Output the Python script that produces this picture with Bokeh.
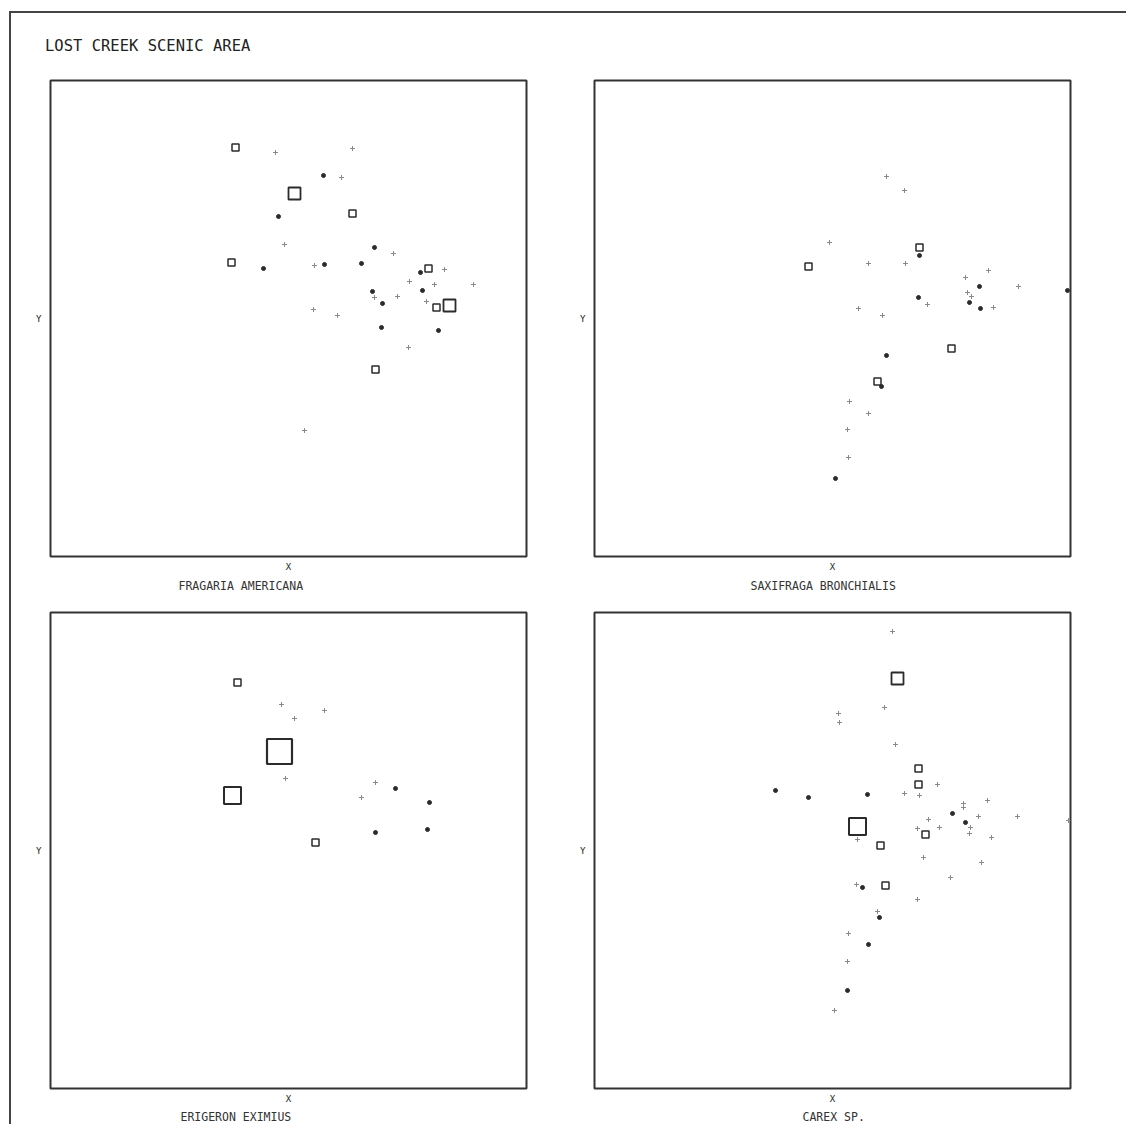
from bokeh.plotting import figure
from bokeh.layouts import column, row
from bokeh.models import Range1d, FixedTicker, Title, Div
from bokeh.embed import file_html
from bokeh.resources import INLINE

MAIN_TITLE = "LOST CREEK SCENIC AREA"
SPECIES = ["FRAGARIA AMERICANA", "SAXIFRAGA BRONCHIALIS", "ERIGERON EXIMIUS", "CAREX SP."]
AXIS_X = "X"
AXIS_Y = "Y"

# Ordination scores of the sample plots (X = axis 1, Y = axis 2) and the
# abundance class of the species in each plot (0 absent, 1 trace, 2..5 cover classes)
fragaria_x = [185, 225, 302, 273, 291, 244, 228, 302, 234, 324, 343, 181, 213, 264, 274, 311,
              378, 370, 394, 359, 384, 423, 322, 324, 332, 347, 372, 376, 386, 399, 263, 287,
              331, 388, 358, 325, 254]
fragaria_y = [409, 404, 408, 381, 379, 363, 340, 343, 312, 309, 303, 294, 288, 291, 292, 293,
              288, 284, 287, 275, 272, 272, 265, 259, 253, 260, 266, 255, 249, 251, 247, 241,
              229, 226, 209, 187, 126]
fragaria_cls = [2, 0, 0, 1, 0, 3, 1, 2, 0, 1, 0, 2, 1, 0, 1, 1,
                2, 1, 0, 0, 0, 0, 1, 0, 1, 0, 1, 0, 2, 3, 0, 0,
                1, 1, 0, 2, 0]

saxifraga_x = [292, 310, 235, 325, 325, 214, 274, 311, 394, 371, 385, 424, 473, 373, 377, 375,
               324, 333, 386, 399, 264, 288, 357, 292, 283, 287, 255, 274, 253, 254, 241]
saxifraga_y = [380, 366, 314, 309, 301, 290, 293, 293, 286, 279, 270, 270, 266, 264, 260, 254,
               259, 252, 248, 249, 248, 241, 208, 201, 175, 170, 155, 143, 127, 99, 78]
saxifraga_cls = [0, 0, 0, 2, 1, 2, 0, 0, 0, 0, 1, 0, 1, 0, 0, 1,
                 1, 0, 1, 0, 0, 0, 2, 1, 2, 1, 0, 0, 0, 0, 1]

erigeron_x = [187, 231, 274, 244, 229, 235, 325, 345, 182, 311, 379, 325, 377, 265]
erigeron_y = [406, 384, 378, 370, 337, 310, 306, 300, 293, 291, 286, 256, 259, 246]
erigeron_cls = [2, 0, 0, 0, 5, 0, 0, 1, 4, 0, 1, 1, 1, 2]

carex_x = [298, 303, 290, 244, 245, 301, 324, 324, 343, 181, 214, 273, 310, 325, 369, 369,
           393, 358, 384, 423, 371, 376, 375, 397, 334, 345, 323, 331, 263, 263, 286, 329,
           387, 356, 291, 268, 262, 323, 285, 283, 254, 274, 253, 253, 240, 474]
carex_y = [457, 410, 381, 375, 366, 344, 320, 304, 304, 298, 291, 294, 295, 293, 285, 281,
           288, 275, 272, 272, 266, 261, 255, 251, 269, 261, 260, 254, 262, 249, 243, 231,
           226, 211, 203, 201, 204, 189, 171, 177, 155, 144, 127, 98, 78, 268]
carex_cls = [0, 3, 0, 0, 0, 0, 2, 2, 0, 1, 1, 1, 0, 0, 0, 0,
             0, 1, 0, 0, 1, 0, 0, 0, 0, 0, 0, 2, 4, 0, 2, 0,
             0, 0, 2, 1, 0, 0, 1, 0, 0, 1, 0, 1, 0, 0]

AXIS_MIN, AXIS_MAX = 0, 476

INK = "#2b2b2b"
STYLE = {
    0: dict(marker="cross", size=5, line_color="#8a8a8a", line_width=1, fill_color=None),
    1: dict(marker="circle", size=4, line_color=INK, line_width=1, fill_color=INK),
    2: dict(marker="square", size=7, line_color=INK, line_width=1.5, fill_color=None),
    3: dict(marker="square", size=12, line_color=INK, line_width=1.8, fill_color=None),
    4: dict(marker="square", size=17, line_color=INK, line_width=2, fill_color=None),
    5: dict(marker="square", size=25, line_color=INK, line_width=2.2, fill_color=None),
}
FONT = "DejaVu Sans Mono"


def make_panel(xs, ys, cls, species, bl, bt, bb, sub_offset, sub_standoff):
    p = figure(frame_width=476, frame_height=476,
               x_range=Range1d(AXIS_MIN, AXIS_MAX), y_range=Range1d(AXIS_MIN, AXIS_MAX),
               output_backend="svg", toolbar_location=None,
               min_border_left=bl, min_border_right=20, min_border_top=bt, min_border_bottom=bb,
               background_fill_color="white", border_fill_color="white",
               outline_line_color="#333333", outline_line_width=2)
    p.grid.visible = False
    for ax in (p.xaxis[0], p.yaxis[0]):
        ax.ticker = FixedTicker(ticks=[])
        ax.axis_line_color = None
        ax.major_tick_line_color = None
        ax.minor_tick_line_color = None
        ax.major_tick_out = 0
        ax.major_tick_in = 0
        ax.minor_tick_out = 0
        ax.major_label_standoff = 0
        ax.axis_label_text_font = FONT
        ax.axis_label_text_font_size = "9px"
        ax.axis_label_text_font_style = "normal"
        ax.axis_label_text_color = "#222222"
    p.xaxis.axis_label = AXIS_X
    p.yaxis.axis_label = AXIS_Y
    p.yaxis.axis_label_orientation = "horizontal"
    p.xaxis.axis_label_standoff = 5
    p.yaxis.axis_label_standoff = 9
    p.add_layout(Title(text=species, align="left", offset=sub_offset, text_font=FONT,
                       text_font_size="11.5px", text_font_style="normal",
                       text_color="#333333", standoff=sub_standoff), "below")
    for k, st in STYLE.items():
        idx = [i for i, c in enumerate(cls) if c == k]
        if not idx:
            continue
        p.scatter(x=[xs[i] for i in idx], y=[ys[i] for i in idx], **st)
    return p


p1 = make_panel(fragaria_x, fragaria_y, fragaria_cls, SPECIES[0], 39, 17, 40, 128, 5)
p2 = make_panel(saxifraga_x, saxifraga_y, saxifraga_cls, SPECIES[1], 48, 17, 40, 156, 5)
p3 = make_panel(erigeron_x, erigeron_y, erigeron_cls, SPECIES[2], 39, 16, 34, 130, 3)
p4 = make_panel(carex_x, carex_y, carex_cls, SPECIES[3], 48, 16, 34, 208, 3)

header = Div(
    text=('<div style="padding:26px 0 0 34px;font-family:\'DejaVu Sans Mono\';'
          'font-size:15.5px;line-height:15px;color:#222;white-space:nowrap">'
          + MAIN_TITLE + '</div>'),
    width=1115, height=50, margin=0)

layout = column(header, row(p1, p2), row(p3, p4), margin=(11, 0, 0, 9),
                styles={"border-top": "2px solid #444", "border-left": "2px solid #444"})

open("out.html", "w").write(file_html(layout, INLINE))
